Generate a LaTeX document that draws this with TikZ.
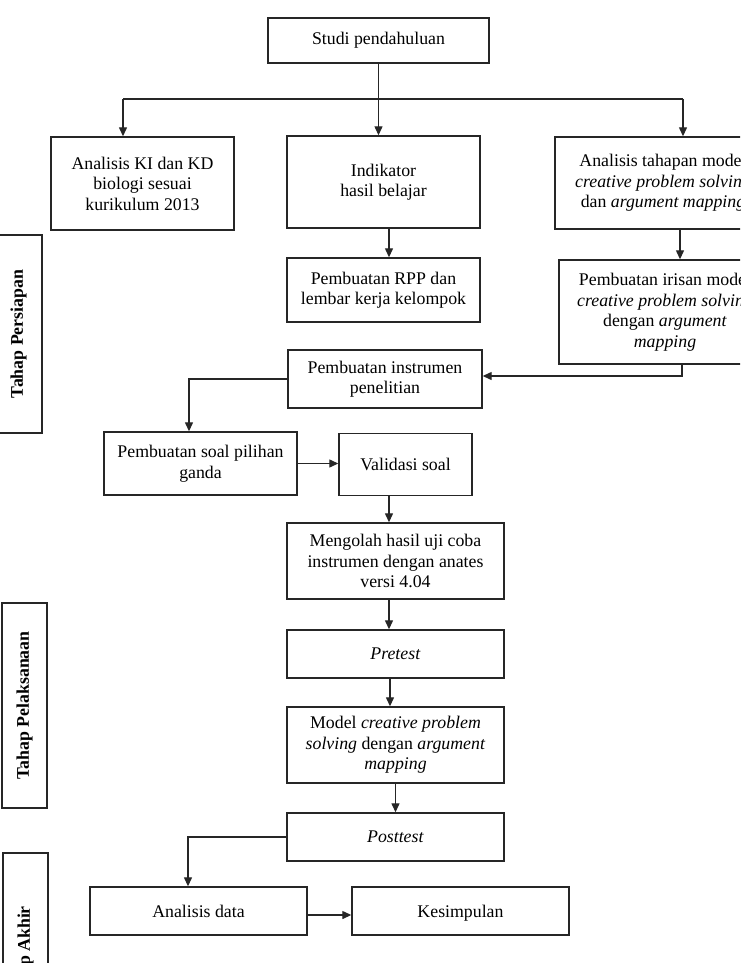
\documentclass[tikz,border=0pt]{standalone}
\usepackage{fontspec}
\setmainfont{Liberation Serif}
\usepackage{tikz}
\usetikzlibrary{calc,arrows.meta}

\begin{document}
\begin{tikzpicture}[x=1pt,y=-1pt,
    kotak/.style={draw=black!85,line width=1.4pt,align=center,inner sep=2pt,
      font=\fontsize{17.8}{20.5}\selectfont},
    tahap/.style={kotak,rotate=90,font=\fontsize{17.8}{20.5}\selectfont\bfseries},
    panah/.style={draw=black!85,line width=1.3pt,-{Triangle[length=9pt,width=8pt]}},
    garis/.style={draw=black!85,line width=1.3pt}]
          \useasboundingbox (0,0) rectangle (740,963);
          \clip (0,0) rectangle (740,963);

          % tahap
          \node[tahap,minimum width=198,minimum height=47] (persiapan) at (18.5,334){Tahap Persiapan};
          \node[tahap,minimum width=205,minimum height=45] (pelaksanaan) at (24.5,705.5){Tahap Pelaksanaan};
          \node[tahap,minimum width=204,minimum height=45] (akhir) at (25.5,955){Tahap Akhir};

          % persiapan
          \node[kotak,minimum width=221,minimum height=45] (studi) at (378.5,40.5){Studi pendahuluan};
          \node[kotak,minimum width=183,minimum height=93] (kikd) at (142.5,183.5){Analisis KI dan KD\\biologi sesuai\\kurikulum 2013};
          \node[kotak,minimum width=193,minimum height=92] (indikator) at (383.5,182){Indikator\\hasil belajar};
          \node[kotak,minimum width=216,minimum height=92] (tahapan) at (663,183){Analisis tahapan model\\\textit{creative problem solving}\\dan \textit{argument mapping}};
          \node[kotak,minimum width=193,minimum height=64] (rpp) at (383.5,290){Pembuatan RPP dan\\lembar kerja kelompok};
          \node[kotak,minimum width=212,minimum height=104] (irisan) at (665,312){Pembuatan irisan model\\\textit{creative problem solving}\\dengan \textit{argument}\\\textit{mapping}};
          \node[kotak,minimum width=194,minimum height=58] (instrumen) at (385,379){Pembuatan instrumen\\penelitian};
          \node[kotak,minimum width=193,minimum height=63] (soal) at (200.5,463.5){Pembuatan soal pilihan\\ganda};
          \node[kotak,minimum width=133,minimum height=62] (validasi) at (405.5,464.5){Validasi soal};
          \node[kotak,minimum width=217,minimum height=76] (mengolah) at (395.5,561){Mengolah hasil uji coba\\instrumen dengan anates\\versi 4.04};

          % pelaksanaan
          \node[kotak,minimum width=217,minimum height=48] (pretest) at (395.5,654){\textit{Pretest}};
          \node[kotak,minimum width=217,minimum height=76] (model) at (395.5,745){Model \textit{creative problem}\\\textit{solving} dengan \textit{argument}\\\textit{mapping}};
          \node[kotak,minimum width=217,minimum height=48] (posttest) at (395.5,837){\textit{Posttest}};

          % akhir
          \node[kotak,minimum width=217,minimum height=48] (analisis) at (198.5,911){Analisis data};
          \node[kotak,minimum width=217,minimum height=48] (kesimpulan) at (460.5,911){\raisebox{0pt}[\height][0pt]{Kesimpulan}};

          \coordinate (kiri) at (123,99);
          \coordinate (kanan) at (683,99);
          \draw[garis] (kiri) -- (kanan);
          \draw[panah] (kiri) -- (kiri |- kikd.north);
          \draw[panah] (kanan) -- (kanan |- tahapan.north);
          \draw[panah] (studi.south) -- (studi.south |- indikator.north);

          \draw[panah] ([xshift=5.5]indikator.south) -- ([xshift=5.5]indikator.south |- rpp.north);
          \draw[panah] ([xshift=17]tahapan.south) -- ([xshift=17]tahapan.south |- irisan.north);
          \draw[panah] ([xshift=17]irisan.south) |- ([yshift=3]instrumen.east);
          \draw[panah] (instrumen.west) -| ([xshift=-11.5]soal.north);
          \draw[panah] (soal.east) -- (soal.east -| validasi.west);
          \draw[panah] ([xshift=-16.5]validasi.south) -- ([xshift=-16.5]validasi.south |- mengolah.north);
          \draw[panah] ([xshift=-6.5]mengolah.south) -- ([xshift=-6.5]mengolah.south |- pretest.north);
          \draw[panah] ([xshift=-5.5]pretest.south) -- ([xshift=-5.5]pretest.south |- model.north);
          \draw[panah] (model.south) -- (posttest.north);
          \draw[panah] (posttest.west) -| ([xshift=-10.5]analisis.north);
          \draw[panah] ([yshift=-4]analisis.east) -- ([yshift=-4]analisis.east -| kesimpulan.west);
        \end{tikzpicture}
\end{document}
